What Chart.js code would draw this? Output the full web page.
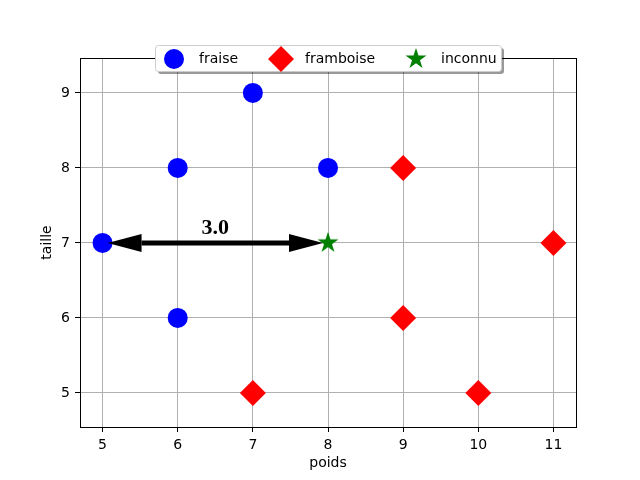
<!DOCTYPE html>
<html>
<head>
<meta charset="utf-8">
<script src="https://cdn.jsdelivr.net/npm/chart.js@4.4.0/dist/chart.umd.min.js"></script>
<style>
    body { margin: 0; background: #fff; }
</style>
</head>
<body>
<canvas id="knnChart" width="640" height="480"></canvas>
<script>
// Données
const fraiseX = [5, 6, 7, 8, 6];
const fraiseY = [7, 8, 9, 8, 6];
const framboiseX = [7, 9, 9, 11, 10];
const framboiseY = [5, 8, 6, 7, 5];
const inconnuX = [8];
const inconnuY = [7];
const xTicks = [5, 6, 7, 8, 9, 10, 11];
const yTicks = [5, 6, 7, 8, 9];
const xRange = [4.7, 11.3];
const yRange = [4.545, 9.465];
const arrowFrom = [5, 7];
const arrowTo = [8, 7];
const distanceLabel = '3.0';
const labelPos = [6.5, 7.12];

// Étoile pleine (le 'star' de Chart.js n'est qu'un astérisque)
function makeStar(r, color) {
    const c = document.createElement('canvas');
    const size = Math.ceil(2 * r + 2);
    c.width = size;
    c.height = size;
    const g = c.getContext('2d');
    const inner = r * 0.381966;
    g.beginPath();
    for (let i = 0; i < 10; i++) {
        const rad = i % 2 === 0 ? r : inner;
        const a = -Math.PI / 2 + i * Math.PI / 5;
        const px = size / 2 + rad * Math.cos(a);
        const py = size / 2 + rad * Math.sin(a);
        if (i === 0) g.moveTo(px, py); else g.lineTo(px, py);
    }
    g.closePath();
    g.fillStyle = color;
    g.fill();
    return c;
}

const starImg = makeStar(11, '#008000');

function toPoints(xs, ys) {
    return xs.map((x, i) => ({ x: x, y: ys[i] }));
}

function drawMarker(ctx, style, x, y, r, color) {
    if (style instanceof HTMLCanvasElement) {
        ctx.drawImage(style, x - style.width / 2, y - style.height / 2);
        return;
    }
    ctx.fillStyle = color;
    ctx.beginPath();
    if (style === 'circle') {
        ctx.arc(x, y, r, 0, Math.PI * 2);
    } else {
        ctx.moveTo(x, y - r);
        ctx.lineTo(x + r, y);
        ctx.lineTo(x, y + r);
        ctx.lineTo(x - r, y);
        ctx.closePath();
    }
    ctx.fill();
}

// Cadre complet autour des axes
const framePlugin = {
    id: 'frame',
    afterDraw(chart) {
        const { ctx, chartArea } = chart;
        ctx.save();
        ctx.strokeStyle = '#000';
        ctx.lineWidth = 1;
        ctx.strokeRect(Math.round(chartArea.left) + 0.5, Math.round(chartArea.top) + 0.5,
            Math.round(chartArea.right - chartArea.left), Math.round(chartArea.bottom - chartArea.top));
        ctx.restore();
    }
};

// Flèche double + distance
const arrowPlugin = {
    id: 'arrow',
    afterDatasetsDraw(chart) {
        const ctx = chart.ctx;
        const xs = chart.scales.x;
        const ys = chart.scales.y;
        const x0 = xs.getPixelForValue(arrowFrom[0]);
        const y0 = ys.getPixelForValue(arrowFrom[1]);
        const x1 = xs.getPixelForValue(arrowTo[0]);
        const y1 = ys.getPixelForValue(arrowTo[1]);
        const len = Math.hypot(x1 - x0, y1 - y0);
        const ux = (x1 - x0) / len;
        const uy = (y1 - y0) / len;
        const shrink = 5, headLen = 34, headW = 9;
        const ax = x0 + ux * shrink, ay = y0 + uy * shrink;
        const bx = x1 - ux * shrink, by = y1 - uy * shrink;

        ctx.save();
        ctx.strokeStyle = '#000';
        ctx.fillStyle = '#000';
        ctx.lineWidth = 5;
        ctx.beginPath();
        ctx.moveTo(ax + ux * headLen, ay + uy * headLen);
        ctx.lineTo(bx - ux * headLen, by - uy * headLen);
        ctx.stroke();

        [[ax, ay, 1], [bx, by, -1]].forEach(([tx, ty, s]) => {
            const baseX = tx + s * ux * headLen;
            const baseY = ty + s * uy * headLen;
            ctx.beginPath();
            ctx.moveTo(tx, ty);
            ctx.lineTo(baseX - uy * headW, baseY + ux * headW);
            ctx.lineTo(baseX + uy * headW, baseY - ux * headW);
            ctx.closePath();
            ctx.fill();
        });

        ctx.font = 'bold 22px "Liberation Serif"';
        ctx.textAlign = 'center';
        ctx.textBaseline = 'alphabetic';
        ctx.fillText(distanceLabel, xs.getPixelForValue(labelPos[0]), ys.getPixelForValue(labelPos[1]));
        ctx.restore();
    }
};

// Légende encadrée avec ombre, à cheval sur le haut des axes
const legendPlugin = {
    id: 'legendBox',
    afterDraw(chart) {
        const ctx = chart.ctx;
        const bx = 155, by = 45, bw = 346, bh = 26;
        const markerX = [174, 281, 416];
        const textX = [199, 305, 441];
        const cy = 59;
        ctx.save();
        ctx.fillStyle = 'rgba(0, 0, 0, 0.4)';
        ctx.beginPath();
        ctx.roundRect(bx + 3, by + 3, bw, bh, 3);
        ctx.fill();
        ctx.fillStyle = '#fff';
        ctx.strokeStyle = '#cccccc';
        ctx.lineWidth = 1;
        ctx.beginPath();
        ctx.roundRect(bx + 0.5, by + 0.5, bw, bh, 3);
        ctx.fill();
        ctx.stroke();

        chart.data.datasets.forEach((ds, i) => {
            drawMarker(ctx, ds.pointStyle, markerX[i], cy, ds.pointRadius, ds.backgroundColor);
            ctx.fillStyle = '#000';
            ctx.font = '14px "DejaVu Sans"';
            ctx.textAlign = 'left';
            ctx.textBaseline = 'middle';
            ctx.fillText(ds.label, textX[i], cy);
        });
        ctx.restore();
    }
};

Chart.defaults.font.family = '"DejaVu Sans"';
Chart.defaults.font.size = 14;
Chart.defaults.color = '#000';

new Chart(document.getElementById('knnChart'), {
    type: 'scatter',
    data: {
        datasets: [{
            label: 'fraise',
            data: toPoints(fraiseX, fraiseY),
            pointStyle: 'circle',
            pointRadius: 10,
            backgroundColor: '#0000ff',
            borderWidth: 0
        }, {
            label: 'framboise',
            data: toPoints(framboiseX, framboiseY),
            pointStyle: 'rectRot',
            pointRadius: 13,
            backgroundColor: '#ff0000',
            borderWidth: 0
        }, {
            label: 'inconnu',
            data: toPoints(inconnuX, inconnuY),
            pointStyle: starImg,
            pointRadius: 11,
            backgroundColor: '#008000',
            borderWidth: 0
        }]
    },
    options: {
        responsive: false,
        animation: false,
        layout: {
            padding: { top: 58, right: 64, left: 0, bottom: 0 }
        },
        plugins: {
            legend: { display: false },
            tooltip: { enabled: false }
        },
        scales: {
            x: {
                type: 'linear',
                min: xRange[0],
                max: xRange[1],
                afterBuildTicks: axis => { axis.ticks = xTicks.map(v => ({ value: v })); },
                afterFit: axis => { axis.height = 53; },
                ticks: { padding: 5, color: '#000' },
                grid: { color: '#b0b0b0', lineWidth: 1, tickColor: '#000', tickLength: 5 },
                border: { display: false },
                title: { display: true, text: 'poids', color: '#000', padding: { top: 0, bottom: 8 } }
            },
            y: {
                type: 'linear',
                min: yRange[0],
                max: yRange[1],
                afterBuildTicks: axis => { axis.ticks = yTicks.map(v => ({ value: v })); },
                afterFit: axis => { axis.width = 80; },
                ticks: { padding: 5, color: '#000' },
                grid: { color: '#b0b0b0', lineWidth: 1, tickColor: '#000', tickLength: 5 },
                border: { display: false },
                title: { display: true, text: 'taille', color: '#000', padding: { top: 39, bottom: 0 } }
            }
        }
    },
    plugins: [framePlugin, arrowPlugin, legendPlugin]
});
</script>
</body>
</html>
